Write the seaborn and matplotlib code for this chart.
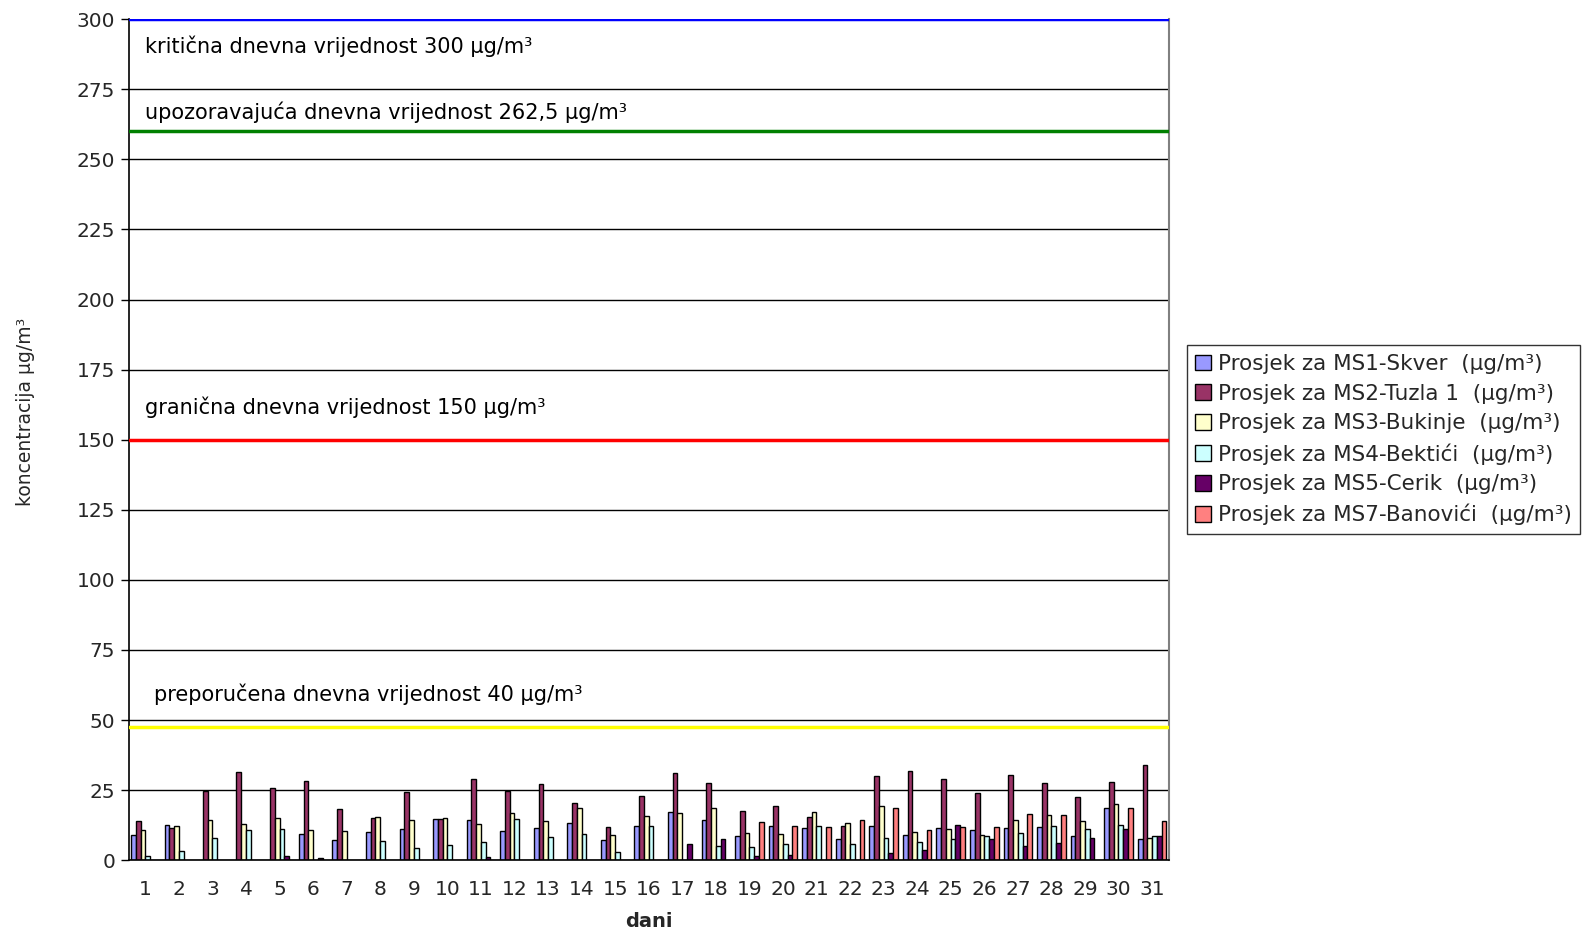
import numpy as np
import pandas as pd
import seaborn as sns
import matplotlib.pyplot as plt
from matplotlib.ticker import MultipleLocator

# =========================
# Data
# =========================
days = list(range(1, 32))
nan = np.nan

ms1 = [8.9, 12.6, nan, nan, nan, 9.2, 7.2, 9.9, 11.0, 14.7, 14.3, 10.4, 11.5, 13.2, 7.2, 12.1,
       17.1, 14.5, 8.7, 12.3, 11.6, 7.7, 12.1, 9.1, 11.6, 10.9, 11.6, 11.8, 8.8, 18.6, 7.7]
ms2 = [14.0, 11.6, 24.6, 31.6, 25.6, 28.4, 18.4, 15.2, 24.4, 14.7, 29.0, 24.8, 27.1, 20.5, 11.8, 22.9,
       31.2, 27.4, 17.4, 19.3, 15.5, 12.3, 30.2, 31.8, 29.0, 23.9, 30.4, 27.7, 22.7, 27.9, 33.9]
ms3 = [10.9, 12.3, 14.5, 13.0, 15.0, 10.6, 10.5, 15.5, 14.5, 14.9, 12.8, 16.9, 14.0, 18.7, 8.9, 15.9,
       16.8, 18.6, 9.8, 9.3, 17.1, 13.3, 19.2, 10.0, 11.1, 8.9, 14.4, 16.1, 14.0, 20.0, 8.0]
ms4 = [1.4, 3.4, 8.0, 10.6, 11.0, nan, nan, 6.9, 4.2, 5.6, 6.6, 14.6, 8.2, 9.3, 3.1, 12.2,
       nan, 5.1, 4.6, 5.8, 12.3, 5.8, 7.9, 6.6, 7.6, 8.6, 9.8, 12.3, 11.1, 12.4, 8.8]
ms5 = [nan, nan, nan, nan, 1.4, 0.8, nan, nan, nan, nan, 1.2, nan, nan, nan, nan, nan,
       5.8, 7.5, 1.4, 1.7, nan, nan, 2.4, 3.5, 12.6, 7.7, 5.1, 6.0, 8.0, 11.0, 8.5]
ms7 = [nan, nan, nan, nan, nan, nan, nan, nan, nan, nan, nan, nan, nan, nan, nan, nan,
       nan, nan, 13.5, 12.3, 11.7, 14.4, 18.8, 10.6, 11.8, 11.8, 16.5, 16.3, nan, 18.6, 14.1]

series_names = [
    "Prosjek za MS1-Skver  (µg/m³)",
    "Prosjek za MS2-Tuzla 1  (µg/m³)",
    "Prosjek za MS3-Bukinje  (µg/m³)",
    "Prosjek za MS4-Bektići  (µg/m³)",
    "Prosjek za MS5-Cerik  (µg/m³)",
    "Prosjek za MS7-Banovići  (µg/m³)",
]
colors = ["#9999FF", "#993366", "#FFFFCC", "#CCFFFF", "#660066", "#FF8080"]

limit_values = [300, 260, 150, 47.5]
limit_colors = ["#0000FF", "#008000", "#FF0000", "#FFFF00"]
limit_labels = [
    "kritična dnevna vrijednost 300 µg/m³",
    "upozoravajuća dnevna vrijednost 262,5 µg/m³",
    "granična dnevna vrijednost 150 µg/m³",
    "preporučena dnevna vrijednost 40 µg/m³",
]

# =========================
# Long-form table
# =========================
rows = []
for name, vals in zip(series_names, [ms1, ms2, ms3, ms4, ms5, ms7]):
    for d, v in zip(days, vals):
        rows.append({"dan": str(d), "serija": name, "vrijednost": v})
df = pd.DataFrame(rows)

# =========================
# Plot
# =========================
sns.set_theme(style="white")
plt.rcParams['font.family'] = ['DejaVu Sans']

fig = plt.figure(figsize=(15.87, 9.35), dpi=100)
ax = fig.add_axes([0.081, 0.080, 0.6555, 0.8994])

sns.barplot(data=df, x="dan", y="vrijednost", hue="serija",
            hue_order=series_names, palette=colors, width=0.85,
            edgecolor="black", linewidth=1.0, saturation=1, ax=ax)

ax.set_ylim(0, 300)
ax.set_xlim(-0.5, 30.5)
ax.yaxis.set_major_locator(MultipleLocator(25))
ax.grid(axis="y", color="black", linewidth=1.0)
ax.set_axisbelow(True)

for val, col in zip(limit_values, limit_colors):
    ax.axhline(val, color=col, linewidth=2.5, zorder=3)

label_pos = [(0.0156, 290.3), (0.0156, 267.0), (0.0156, 161.7), (0.0245, 59.2)]
for (xf, yv), txt in zip(label_pos, limit_labels):
    ax.text(xf, yv, txt, transform=ax.get_yaxis_transform(), fontsize=15,
            va="center", ha="left", color="black")

ax.set_xticks(range(31))
ax.set_xticklabels([str(d) for d in days])
ax.set_xticks(np.arange(-0.5, 31, 1), minor=True)
ax.tick_params(axis="x", which="major", length=0, labelsize=14.5, pad=14)
ax.tick_params(axis="x", which="minor", length=6, width=1, color="black")
ax.tick_params(axis="y", length=6, width=1, color="black", labelsize=14.5, left=True)

ax.set_xlabel("dani", fontsize=14, fontweight="bold")
ax.set_ylabel("koncentracija µg/m³", fontsize=13.5)
ax.xaxis.set_label_coords(0.5, -0.062)
ax.yaxis.set_label_coords(-0.09, 0.533)

for side in ["left", "bottom"]:
    ax.spines[side].set_color("black")
    ax.spines[side].set_linewidth(1.2)
ax.spines["right"].set_color("#808080")
ax.spines["right"].set_linewidth(1.5)
ax.spines["top"].set_visible(False)

leg = ax.legend(loc="center left", bbox_to_anchor=(1.017, 0.5), fontsize=15.5,
                frameon=True, fancybox=False, edgecolor="black",
                handlelength=0.75, handleheight=0.75, handletextpad=0.3,
                labelspacing=0.45, borderpad=0.4, borderaxespad=0)
leg.get_frame().set_linewidth(1.0)
for h in leg.legend_handles:
    h.set_edgecolor("black")
    h.set_linewidth(1.0)

fig.savefig("out.png", dpi=100)
